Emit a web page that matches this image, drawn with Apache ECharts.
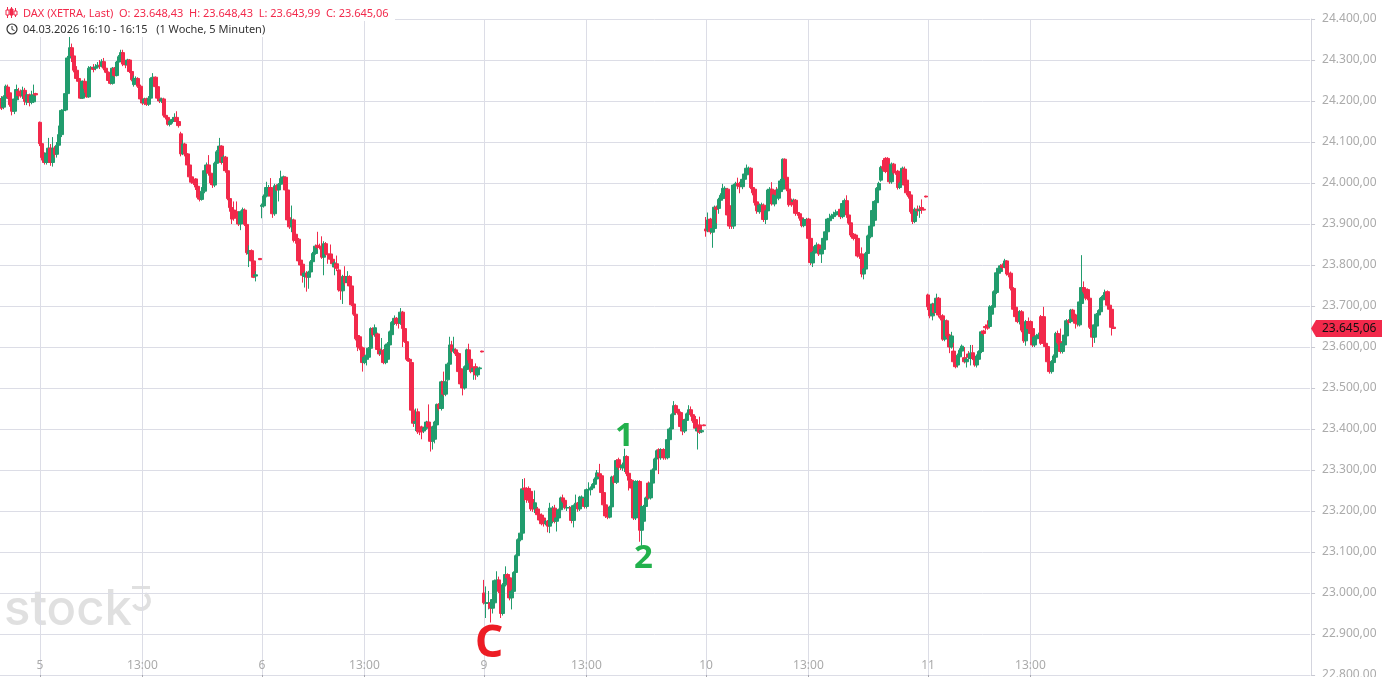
<!DOCTYPE html>
<html><head><meta charset="utf-8">
<style>html,body{margin:0;padding:0;background:#fff;overflow:hidden}#c{width:1382px;height:677px}</style>
<script src="https://cdn.jsdelivr.net/npm/echarts@6/dist/echarts.min.js"></script>
</head><body><div id="c"></div>
<script>
// each row: [open, close, low, high]
const dayPrior = [
[24205,24183,24175,24210],[24206,24183,24178,24212],[24185,24210,24180,24214],[24207,24236,24204,24240],[24234,24211,24205,24240],[24220,24191,24186,24226],[24191,24175,24165,24200],[24175,24205,24168,24208],[24203,24228,24198,24240],[24224,24213,24205,24232],[24222,24212,24208,24228],[24213,24226,24205,24235],[24226,24199,24190,24232],[24197,24215,24190,24222],[24215,24197,24187,24218],[24197,24213,24192,24225],[24198,24215,24195,24240],[24218,24215,24212,24220],null,[24205,24203,24202,24206]];
const day5 = [
[24148,24096,24090,24150],[24096,24062,24055,24100],[24062,24050,24045,24075],[24050,24073,24045,24078],[24073,24085,24060,24110],[24085,24050,24042,24095],[24050,24085,24040,24112],[24085,24070,24062,24090],[24070,24092,24062,24100],[24092,24118,24088,24140],
[24118,24177,24112,24180],[24177,24178,24175,24195],[24178,24218,24175,24222],[24218,24305,24215,24310],[24305,24330,24300,24356],[24330,24310,24295,24340],[24310,24275,24270,24312],[24275,24255,24250,24285],[24255,24248,24240,24262],[24248,24207,24205,24250],
[24207,24248,24205,24250],[24248,24230,24220,24255],[24230,24210,24208,24240],[24210,24280,24208,24285],[24280,24282,24265,24285],[24282,24277,24270,24290],[24280,24283,24275,24290],[24283,24287,24280,24295],[24287,24285,24278,24300],[24285,24296,24282,24302],
[24296,24280,24275,24305],[24280,24270,24268,24290],[24270,24250,24247,24272],[24250,24243,24240,24252],[24243,24280,24240,24283],[24280,24262,24258,24283],[24262,24295,24260,24298],[24295,24308,24290,24312],[24308,24318,24305,24325],[24318,24290,24285,24325],
[24290,24288,24280,24295],[24288,24300,24285,24303],[24300,24272,24268,24302],[24272,24252,24248,24275],[24240,24255,24235,24262],[24250,24255,24245,24260],[24255,24236,24232,24258],[24236,24205,24200,24240],[24205,24195,24190,24210],[24195,24205,24190,24208],
[24205,24192,24188,24208],[24192,24207,24188,24212],[24207,24255,24203,24258],[24255,24258,24250,24268],[24258,24235,24230,24260],[24235,24207,24203,24238],[24207,24200,24195,24210],[24200,24205,24195,24208],[24205,24165,24160,24208],[24165,24160,24155,24170],
[24160,24143,24140,24163],[24143,24150,24138,24153],[24150,24155,24145,24160],[24155,24160,24150,24170],[24160,24150,24145,24175],[24150,24140,24135,24153],[24120,24071,24065,24125],[24071,24095,24068,24105],[24095,24071,24065,24098],[24071,24044,24040,24073],
[24044,24015,24010,24046],[24015,24002,23998,24018],[24005,24000,23995,24012],[24010,23990,23983,24012],[23992,23965,23960,23995],[23965,23960,23955,23968],[23960,23980,23957,23990],[23980,24030,23975,24033],[24030,24044,24026,24050],[24044,24024,24018,24068],
[24024,24000,23995,24027],[24000,23995,23988,24003],[23995,24048,23990,24052],[24048,24076,24044,24080],[24076,24090,24072,24110],[24090,24050,24045,24092],[24050,24063,24030,24068],[24063,24030,24025,24066],[24030,23962,23958,24033],[23962,23940,23930,23965],
[23940,23912,23900,23943],[23934,23914,23908,23955],[23930,23915,23910,23955],[23915,23900,23895,23930],[23900,23930,23885,23933],[23930,23935,23912,23940],[23934,23899,23895,23938],[23899,23830,23825,23902],[23827,23835,23795,23848],[23835,23810,23805,23838],
[23810,23770,23768,23813],[23773,23776,23760,23785],null,[23816,23813,23812,23817]];
const day6 = [
[23943,23946,23914,23950],[23944,23968,23940,23972],[23968,23989,23965,24003],[23989,23989,23975,23995],[23989,23968,23960,24012],[23970,23925,23915,23975],[23925,23993,23920,23998],[23993,23983,23980,23997],[23983,23997,23955,24000],[23997,24011,23990,24030],
[24011,24015,24005,24018],[24014,23983,23980,24016],[23983,23910,23905,23985],[23915,23893,23888,23955],[23893,23910,23880,23945],[23910,23860,23855,23913],[23875,23860,23852,23878],[23863,23810,23805,23866],[23812,23800,23797,23835],[23802,23775,23757,23805],
[23772,23780,23745,23785],[23780,23770,23735,23785],[23770,23783,23742,23786],[23783,23808,23780,23812],[23808,23828,23805,23832],[23828,23846,23825,23850],[23848,23843,23838,23881],[23846,23843,23838,23852],[23843,23819,23815,23870],[23819,23852,23775,23858],
[23852,23827,23822,23856],[23827,23825,23803,23832],[23827,23814,23810,23850],[23814,23803,23798,23818],[23795,23805,23775,23810],[23803,23792,23785,23823],[23788,23739,23735,23792],[23743,23737,23715,23746],[23737,23772,23705,23776],[23772,23757,23750,23797],
[23757,23772,23750,23785],[23772,23749,23745,23775],[23749,23703,23700,23752],[23705,23680,23676,23708],[23680,23620,23616,23683],[23628,23600,23590,23630],[23625,23597,23592,23628],[23598,23562,23540,23601],[23562,23575,23558,23578],[23570,23580,23555,23585],
[23575,23597,23570,23600],[23597,23645,23592,23648],[23645,23630,23625,23648],[23630,23647,23625,23655],[23632,23594,23590,23635],[23595,23583,23578,23598],[23583,23590,23575,23622],[23592,23562,23558,23595],[23562,23605,23558,23608],[23570,23608,23565,23612],
[23605,23637,23600,23640],[23630,23660,23625,23663],[23658,23670,23654,23677],[23670,23658,23652,23673],[23665,23658,23645,23668],[23658,23685,23654,23695],[23685,23645,23600,23688],[23645,23613,23610,23648],[23613,23570,23566,23615],[23570,23565,23530,23573],
[23562,23446,23440,23565],[23446,23414,23405,23450],[23414,23418,23395,23450],[23442,23393,23388,23450],[23405,23393,23385,23408],[23405,23393,23375,23408],[23395,23402,23390,23405],[23402,23417,23398,23420],[23417,23405,23395,23460],[23405,23370,23345,23408],
[23370,23405,23350,23408],[23375,23417,23365,23420],[23410,23460,23405,23462],[23460,23450,23445,23463],[23450,23515,23445,23518],[23515,23485,23480,23540],[23485,23515,23480,23535],[23520,23558,23515,23562],[23558,23605,23554,23625],[23605,23590,23585,23615],
[23590,23595,23585,23625],[23593,23583,23578,23597],[23584,23540,23535,23587],[23547,23510,23505,23550],[23510,23500,23482,23513],[23500,23552,23496,23555],[23545,23593,23540,23596],[23593,23568,23560,23608],[23570,23540,23536,23573],[23540,23548,23520,23552],
[23552,23532,23520,23560],[23532,23547,23527,23550],[23547,23549,23543,23552],[23590,23588,23587,23591]];
const day9 = [
[23000,22976,22972,23032],[22975,22976,22939,23016],[22975,22976,22960,23005],[22976,22963,22928,22980],[22963,22984,22950,23025],[22976,23030,22970,23033],[23030,23032,23010,23053],[23032,23004,23000,23040],[23004,22950,22939,23008],[22950,23020,22945,23024],
[23020,23045,23016,23065],[23045,23037,23030,23048],[23037,22988,22982,23045],[22988,23004,22960,23008],[23004,23050,23000,23053],[23050,23091,23046,23094],[23091,23130,23087,23133],[23130,23146,23126,23150],[23146,23254,23142,23278],[23256,23252,23225,23280],
[23255,23228,23220,23258],[23255,23226,23220,23260],[23248,23205,23200,23252],[23228,23205,23198,23232],[23205,23220,23195,23250],[23205,23191,23186,23210],[23192,23178,23172,23195],[23190,23169,23165,23194],[23183,23169,23162,23186],[23169,23175,23165,23178],
[23175,23163,23148,23178],[23163,23207,23146,23220],[23175,23207,23170,23212],[23207,23175,23170,23215],[23175,23183,23150,23186],[23183,23203,23178,23206],[23203,23232,23200,23235],[23232,23224,23220,23240],[23226,23208,23204,23229],[23208,23208,23200,23215],
[23208,23208,23204,23212],[23209,23177,23170,23212],[23177,23213,23160,23216],[23213,23219,23205,23240],[23219,23205,23198,23222],[23205,23234,23200,23237],[23225,23234,23220,23238],[23230,23211,23206,23234],[23211,23252,23206,23255],[23252,23252,23235,23270],
[23252,23256,23238,23260],[23256,23265,23252,23268],[23265,23278,23262,23282],[23278,23293,23275,23300],[23291,23285,23280,23315],[23286,23245,23240,23289],[23245,23215,23210,23248],[23215,23188,23183,23218],[23188,23185,23180,23192],[23185,23210,23182,23213],
[23210,23283,23206,23286],[23283,23270,23265,23287],[23270,23323,23266,23326],[23325,23307,23300,23330],[23312,23307,23300,23318],[23305,23312,23298,23318],[23307,23333,23295,23352],[23333,23291,23285,23336],[23292,23275,23250,23295],[23275,23256,23250,23278],
[23260,23183,23178,23263],[23183,23272,23178,23275],[23260,23272,23255,23275],[23272,23153,23125,23275],[23153,23211,23115,23214],[23175,23211,23170,23215],[23211,23232,23207,23235],[23268,23232,23228,23272],[23232,23268,23228,23272],[23268,23300,23264,23304],
[23300,23327,23296,23330],[23327,23347,23323,23350],[23350,23330,23290,23353],[23330,23350,23325,23353],[23350,23330,23325,23353],[23350,23330,23325,23353],[23330,23374,23326,23378],[23374,23400,23370,23404],[23400,23435,23396,23438],[23435,23457,23431,23468],
[23457,23440,23435,23460],[23448,23440,23435,23452],[23440,23406,23402,23443],[23423,23395,23385,23426],[23395,23421,23390,23425],[23421,23437,23417,23440],[23437,23447,23433,23458],[23447,23435,23430,23455],[23435,23420,23415,23440],[23423,23402,23398,23432],
[23395,23402,23350,23408],[23410,23392,23388,23430],[23393,23396,23390,23399],[23410,23408,23407,23411]];
const day10 = [
[23888,23883,23869,23917],[23885,23910,23880,23928],[23912,23881,23875,23915],[23880,23889,23842,23893],[23889,23941,23885,23945],[23941,23936,23902,23945],[23938,23960,23925,23964],[23958,23970,23954,23975],[23962,23987,23958,23998],[23967,23987,23962,23992],
[23985,23922,23918,23988],[23944,23895,23888,23948],[23944,23895,23888,23948],[23895,23995,23888,23998],[23993,23999,23985,24003],[23999,23993,23985,24013],[23999,23991,23975,24003],[23991,24009,23985,24012],[24009,24022,24005,24026],[24020,24036,24015,24045],
[24034,24036,24025,24040],[24036,23989,23985,24038],[23989,23976,23970,23992],[23985,23952,23945,23988],[23954,23932,23925,23957],[23930,23946,23925,23950],[23946,23946,23930,23952],[23946,23911,23905,23950],[23911,23932,23900,23935],[23932,23983,23928,23986],
[23950,23985,23945,23990],[23985,23949,23945,24002],[23949,23971,23943,23975],[23983,23971,23965,23990],[23963,23985,23958,23990],[23979,24005,23975,24010],[23985,24058,23980,24060],[24058,24012,24008,24060],[24014,23985,23980,24017],[23985,23947,23942,23988],
[23958,23947,23942,23962],[23955,23958,23950,23962],[23958,23926,23920,23961],[23928,23925,23920,23932],[23925,23914,23908,23928],[23915,23896,23892,23918],[23896,23911,23892,23915],[23908,23911,23904,23915],[23912,23865,23860,23915],[23865,23806,23800,23868],
[23805,23830,23795,23834],[23829,23845,23825,23849],[23845,23849,23840,23855],[23849,23827,23822,23852],[23827,23838,23805,23842],[23838,23865,23834,23869],[23861,23881,23857,23885],[23881,23912,23877,23915],[23908,23914,23904,23925],[23914,23920,23910,23925],
[23918,23923,23912,23930],[23922,23928,23918,23935],[23925,23930,23920,23934],[23936,23918,23912,23945],[23918,23950,23914,23954],[23947,23957,23943,23962],[23957,23922,23915,23970],[23922,23902,23898,23925],[23903,23873,23868,23906],[23875,23865,23860,23878],
[23873,23865,23825,23876],[23865,23822,23818,23868],[23827,23822,23815,23832],[23827,23778,23770,23843],[23778,23790,23765,23793],[23790,23828,23786,23832],[23828,23871,23824,23874],[23869,23895,23865,23898],[23895,23933,23891,23936],[23909,23955,23905,23958],
[23952,23987,23948,23990],[23983,23999,23979,24003],[24007,24038,24003,24042],[24040,24036,24030,24056],[24060,24028,24024,24063],[24060,24028,24024,24063],[24028,24003,23998,24031],[24003,24046,23998,24050],[24046,24025,24020,24049],[24027,24025,24020,24030],
[24029,23989,23984,24032],[23989,23999,23985,24003],[23999,24036,23995,24040],[24034,23995,23990,24040],[24007,23976,23970,24010],[23979,23967,23962,23982],[23971,23930,23925,23974],[23932,23906,23900,23935],[23906,23936,23902,23940],[23936,23932,23920,23945],
[23933,23936,23915,23945],[23940,23936,23925,23960],[23936,23934,23933,23937],[23968,23966,23965,23969]];
const day11 = [
[23727,23698,23690,23730],[23698,23676,23670,23702],[23676,23705,23665,23708],[23705,23684,23680,23710],[23684,23719,23680,23730],[23719,23678,23672,23722],[23676,23670,23665,23690],[23676,23619,23615,23680],[23619,23664,23614,23668],[23664,23627,23622,23667],
[23629,23600,23585,23632],[23600,23627,23596,23637],[23590,23564,23560,23610],[23576,23552,23548,23580],[23556,23580,23550,23584],[23576,23592,23572,23597],[23590,23602,23586,23606],[23574,23564,23560,23600],[23564,23570,23550,23575],[23583,23575,23570,23590],
[23572,23585,23555,23605],[23586,23572,23568,23605],[23576,23556,23552,23580],[23556,23578,23550,23582],[23570,23589,23566,23592],[23589,23637,23585,23640],[23639,23633,23628,23642],[23650,23647,23640,23655],[23654,23646,23642,23665],[23650,23698,23646,23702],
[23680,23698,23675,23702],[23697,23735,23693,23738],[23733,23781,23729,23785],[23780,23792,23775,23796],[23784,23798,23780,23802],[23800,23794,23788,23804],[23796,23810,23792,23815],[23810,23778,23774,23812],[23780,23776,23770,23784],[23780,23743,23738,23784],
[23743,23692,23688,23746],[23697,23674,23668,23700],[23686,23662,23658,23690],[23662,23686,23655,23690],[23686,23641,23636,23690],[23641,23615,23610,23644],[23615,23662,23603,23666],[23662,23645,23640,23672],[23662,23633,23628,23665],[23645,23605,23600,23648],
[23605,23624,23600,23628],[23620,23628,23615,23632],[23624,23630,23620,23635],[23674,23609,23605,23678],[23674,23609,23605,23698],[23609,23601,23596,23612],[23601,23564,23560,23604],[23564,23540,23535,23567],[23540,23564,23535,23568],[23562,23578,23558,23582],
[23575,23633,23570,23637],[23633,23611,23606,23640],[23613,23589,23584,23645],[23589,23609,23584,23612],[23605,23629,23600,23633],[23627,23664,23622,23668],[23664,23660,23655,23668],[23662,23690,23658,23693],[23690,23670,23665,23693],[23678,23658,23645,23681],
[23667,23656,23650,23670],[23654,23710,23650,23714],[23706,23745,23702,23824],[23745,23735,23730,23760],[23741,23719,23714,23744],[23740,23719,23714,23743],[23719,23648,23644,23722],[23648,23624,23600,23651],[23624,23654,23610,23657],[23651,23680,23647,23683],
[23678,23689,23674,23692],[23686,23719,23682,23722],[23715,23724,23710,23727],[23719,23733,23715,23740],[23735,23702,23698,23738],[23702,23692,23688,23705],[23692,23648,23628,23695],[23648.43,23645.06,23643.99,23648.43]];

const dayStarts = [19,123,227,331,435];
const dayNames = ['5','6','9','10','11'];
const noonLabel = '13:00';
const noonOffset = 48;
const barCount = 615;
const yTicks = {min:22800,max:24400,step:100};
const lastPrice = 23645.06;
const headerLine1 = 'DAX (XETRA, Last)  O: 23.648,43  H: 23.648,43  L: 23.643,99  C: 23.645,06';
const headerLine2 = '04.03.2026 16:10 - 16:15   (1 Woche, 5 Minuten)';

const red='#f2294b', green='#219c6d', gridC='#dcdde6', labelC='#ababab';
const font='"Noto Sans"';
const fmt=v=>v.toLocaleString('de-DE',{minimumFractionDigits:2,maximumFractionDigits:2});

const labels=new Array(barCount).fill('');
dayStarts.forEach((s,i)=>{labels[s]=dayNames[i];labels[s+noonOffset]=noonLabel;});
const empty=['-','-','-','-'];
const rows=new Array(barCount).fill(empty);
const put=(arr,s)=>arr.forEach((r,i)=>{if(r)rows[s+i]=r;});
put(dayPrior,0);put(day5,19);put(day6,123);put(day9,227);put(day10,331);put(day11,435);
const show=(i,v)=>v!=='';

const chart=echarts.init(document.getElementById('c'),null,{renderer:'canvas'});
chart.setOption({
 animation:false,
 grid:{left:-0.56,top:19,width:614*2.1346,height:656,outerBoundsMode:'none',containLabel:false},
 xAxis:{type:'category',data:labels,boundaryGap:false,
  axisLine:{lineStyle:{color:gridC}},
  axisTick:{interval:show,length:4,lineStyle:{color:'#a8a8b0'}},
  axisLabel:{interval:show,inside:true,margin:3,color:labelC,fontSize:12,fontFamily:font,hideOverlap:false},
  splitLine:{show:true,interval:show,lineStyle:{color:gridC}}},
 yAxis:{type:'value',position:'right',offset:1,min:yTicks.min,max:yTicks.max,interval:yTicks.step,scale:true,
  axisLine:{show:true,lineStyle:{color:'#d4d5de'}},
  axisTick:{show:true,length:4,lineStyle:{color:'#c8c9d2'}},
  axisLabel:{color:labelC,fontSize:12,fontFamily:font,margin:11,showMinLabel:true,showMaxLabel:true,formatter:fmt},
  splitLine:{show:true,lineStyle:{color:gridC}}},
 series:[{type:'candlestick',data:rows,barWidth:4,large:false,progressive:0,clip:true,
  itemStyle:{color:green,color0:red,borderColor:green,borderColor0:red,borderWidth:1}}]
});

const tagY=chart.convertToPixel({yAxisIndex:0},lastPrice);
const txt=(x,y,text,fill,size,weight,z,fam)=>({type:'text',x,y,z:z||20,silent:true,style:{text,fill,font:(weight||'normal')+' '+size+'px '+(fam||font),textVerticalAlign:'middle'}});
chart.setOption({graphic:[
 {type:'rect',shape:{x:0,y:0,width:395,height:21},style:{fill:'#fff'},z:10,silent:true},
 {type:'rect',shape:{x:0,y:21,width:271,height:16},style:{fill:'#fff'},z:10,silent:true},
 txt(23,14,headerLine1,red,11),
 txt(23,30,headerLine2,'#333',11),
 {type:'line',shape:{x1:7.5,y1:7,x2:7.5,y2:18},style:{stroke:red},z:20},
 {type:'rect',shape:{x:6,y:10,width:3,height:5},style:{fill:'#fff',stroke:red},z:20},
 {type:'line',shape:{x1:11.5,y1:7,x2:11.5,y2:18},style:{stroke:red},z:20},
 {type:'rect',shape:{x:10,y:9,width:3,height:6},style:{fill:red,stroke:red},z:20},
 {type:'line',shape:{x1:15.5,y1:8,x2:15.5,y2:17},style:{stroke:red},z:20},
 {type:'rect',shape:{x:14,y:11,width:3,height:4},style:{fill:'#fff',stroke:red},z:20},
 {type:'circle',shape:{cx:12,cy:29,r:5},style:{fill:'#fff',stroke:'#333',lineWidth:1.2},z:20},
 {type:'polyline',shape:{points:[[12,26],[12,29.5],[14.5,30.5]]},style:{fill:'none',stroke:'#333'},z:20},
 // watermark
 txt(4,610,'stock','#e0e0e0',49,'500',-1,'Inter'),
 {type:'line',shape:{x1:132,y1:587.5,x2:150,y2:587.5},style:{stroke:'#e0e0e0',lineWidth:3},z:-1,silent:true},
 {type:'arc',shape:{cx:141,cy:601,r:8,startAngle:-Math.PI/3,endAngle:Math.PI*0.85,clockwise:true},style:{stroke:'#e0e0e0',lineWidth:4,fill:'none'},z:-1,silent:true},
 // annotations
 txt(475,644,'C','#ed1c24',44,'bold'),
 txt(615,437,'1','#22b14c',33,'bold'),
 txt(634,559,'2','#22b14c',33,'bold'),
 // last price tag
 {type:'polygon',shape:{points:[[1311,tagY],[1316,tagY-8.5],[1382,tagY-8.5],[1382,tagY+8.5],[1316,tagY+8.5]]},style:{fill:red},z:20,silent:true},
 txt(1322,tagY,fmt(lastPrice),'#111',12)
]});
</script></body></html>
